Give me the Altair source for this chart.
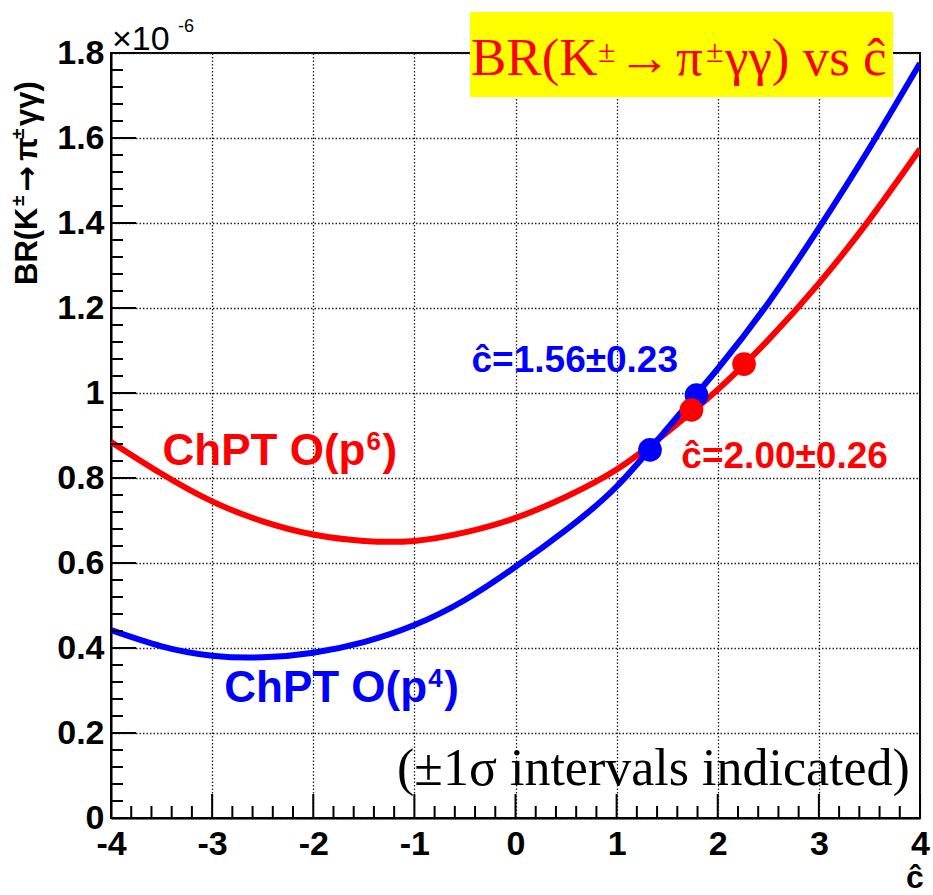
import altair as alt
import pandas as pd

# ---- data ----
c_hat = [-4.0, -3.5, -3.0, -2.5, -2.0, -1.5, -1.0, -0.5, 0.0, 0.5, 1.0, 1.5, 2.0, 2.5, 3.0, 3.5, 4.0]
br_p6 = [0.885, 0.81, 0.745, 0.698, 0.667, 0.652, 0.652, 0.672, 0.706, 0.756, 0.82, 0.908, 1.008, 1.125, 1.258, 1.408, 1.574]
br_p4 = [0.442, 0.404, 0.382, 0.378, 0.389, 0.414, 0.454, 0.513, 0.591, 0.678, 0.78, 0.916, 1.057, 1.212, 1.388, 1.576, 1.776]

p4_marker_c = [1.33, 1.79]
p4_marker_br = [0.866, 0.995]
p6_marker_c = [1.74, 2.26]
p6_marker_br = [0.960, 1.068]

x_major = [-4, -3, -2, -1, 0, 1, 2, 3, 4]
y_major = [0, 0.2, 0.4, 0.6, 0.8, 1.0, 1.2, 1.4, 1.6, 1.8]
x_minor = [round(-4 + i * 0.2, 1) for i in range(41) if i % 5 != 0]
y_minor = [round(i * 0.04, 2) for i in range(46) if i % 5 != 0]

chpt_x = [-3.49, -2.88]
chpt_y = [0.831, 0.273]
chpt_power = ["6", "4"]
chpt_color = ["#ff0000", "#0000ff"]

fit_text = ["\u0109=1.56\u00b10.23", "\u0109=2.00\u00b10.26"]
fit_x = [-0.435, 1.64]
fit_y = [1.049, 0.824]
fit_color = ["#0000ff", "#ff0000"]

W, H = 809, 765

xs = alt.Scale(domain=[-4, 4], nice=False, zero=False)
ys = alt.Scale(domain=[0, 1.8], nice=False, zero=False)

common_axis = dict(
    title=None, grid=True, ticks=False, domain=True, domainColor="black", domainWidth=2,
    gridColor="#222222", gridWidth=1.3, gridDash=[1.5, 2], gridOpacity=1,
    labelFont="Liberation Sans", labelFontWeight="bold", labelFontSize=34,
    labelColor="black", labelFlush=False, labelOverlap=False, labelExpr="'' + datum.value",
)
xaxis = alt.Axis(values=x_major, labelPadding=9, **common_axis)
yaxis = alt.Axis(values=y_major, labelPadding=7, **common_axis)

X = lambda f: alt.X(f, type="quantitative", scale=xs, axis=xaxis)
Y = lambda f: alt.Y(f, type="quantitative", scale=ys, axis=yaxis)

df6 = pd.DataFrame({"c": c_hat, "br": br_p6})
df4 = pd.DataFrame({"c": c_hat, "br": br_p4})

line6 = alt.Chart(df6).mark_line(color="#ff0000", strokeWidth=6, interpolate="natural", clip=True).encode(x=X("c"), y=Y("br"))
line4 = alt.Chart(df4).mark_line(color="#0000ff", strokeWidth=6, interpolate="natural", clip=True).encode(x=X("c"), y=Y("br"))

pts4 = alt.Chart(pd.DataFrame({"c": p4_marker_c, "br": p4_marker_br})).mark_circle(
    color="#0000ff", size=560, opacity=1).encode(x=X("c"), y=Y("br"))
pts6 = alt.Chart(pd.DataFrame({"c": p6_marker_c, "br": p6_marker_br})).mark_circle(
    color="#ff0000", size=560, opacity=1).encode(x=X("c"), y=Y("br"))

# inward ticks (ROOT style)
ymaj = alt.Chart(pd.DataFrame({"v": y_major})).mark_rule(color="black", strokeWidth=2).encode(
    y=Y("v"), x=alt.value(0), x2=alt.value(25))
ymin = alt.Chart(pd.DataFrame({"v": y_minor})).mark_rule(color="black", strokeWidth=2).encode(
    y=Y("v"), x=alt.value(0), x2=alt.value(12))
xmaj = alt.Chart(pd.DataFrame({"v": x_major})).mark_rule(color="black", strokeWidth=2).encode(
    x=X("v"), y=alt.value(H), y2=alt.value(H - 24))
xmin = alt.Chart(pd.DataFrame({"v": x_minor})).mark_rule(color="black", strokeWidth=2).encode(
    x=X("v"), y=alt.value(H), y2=alt.value(H - 12))

# ChPT labels (main text, superscript power, closing paren)
chpt_df = pd.DataFrame({"x": chpt_x, "y": chpt_y, "p": chpt_power, "col": chpt_color,
                        "main": ["ChPT O(p"] * 2, "close": [")"] * 2})
chpt_base = alt.Chart(chpt_df)
chpt_enc = dict(x=X("x"), y=Y("y"), color=alt.Color("col:N", scale=None))
chpt_main = chpt_base.mark_text(align="left", baseline="alphabetic", font="Liberation Sans",
                                fontWeight="bold", fontSize=44).encode(text="main:N", **chpt_enc)
chpt_pow = chpt_base.mark_text(align="left", baseline="alphabetic", font="Liberation Sans",
                               fontWeight="bold", fontSize=26, dx=204, dy=-15).encode(text="p:N", **chpt_enc)
chpt_close = chpt_base.mark_text(align="left", baseline="alphabetic", font="Liberation Sans",
                                 fontWeight="bold", fontSize=44, dx=220).encode(text="close:N", **chpt_enc)

fits = alt.Chart(pd.DataFrame({"t": fit_text, "x": fit_x, "y": fit_y, "col": fit_color})).mark_text(
    align="left", baseline="alphabetic", font="Liberation Sans", fontWeight="bold", fontSize=37).encode(
    x=X("x"), y=Y("y"), text="t:N", color=alt.Color("col:N", scale=None))

note = alt.Chart(pd.DataFrame({"t": ["(\u00b11\u03c3 intervals indicated)"], "x": [3.90], "y": [0.078]})).mark_text(
    align="right", baseline="alphabetic", font="Liberation Serif", fontSize=52, color="black").encode(
    x=X("x"), y=Y("y"), text="t:N")


def ptext(t, x, y, size, font="Liberation Sans", weight="normal", color="black",
          dx=0, dy=0, angle=0, align="left"):
    kw = dict(align=align, baseline="alphabetic", font=font, fontWeight=weight,
              fontSize=size, color=color, dx=dx, dy=dy)
    if angle:
        kw["angle"] = angle
    return alt.Chart(pd.DataFrame({"t": [t]})).mark_text(**kw).encode(
        x=alt.value(x), y=alt.value(y), text="t:N")


# title box and composed title
box = alt.Chart(pd.DataFrame({"a": [0]})).mark_rect(color="#ffff00").encode(
    x=alt.value(359), x2=alt.value(782), y=alt.value(-41), y2=alt.value(44))
TS = "Liberation Serif"
title_parts = [
    ptext("BR(K", 360, 22, 53, TS, color="#ff0000"),
    ptext("\u00b1", 360, 22, 32, TS, color="#ff0000", dx=127, dy=-13),
    ptext("\u2192", 360, 22, 53, TS, color="#ff0000", dx=147),
    ptext("\u03c0", 360, 22, 53, TS, color="#ff0000", dx=205),
    ptext("\u00b1", 360, 22, 32, TS, color="#ff0000", dx=235, dy=-13),
    ptext("\u03b3\u03b3) vs \u0109", 360, 22, 53, TS, color="#ff0000", dx=254),
]

# axis exponent
exp1 = ptext("\u00d710", 1, -3, 34)
exp2 = ptext("-6", 67, -21, 18)

# rotated y title composed of pieces (reading upward, dx along the text)
YX, YY = -74, 232
ytitle_parts = [
    ptext("BR(K", YX, YY, 31, weight="bold", angle=270),
    ptext("\u00b1", YX, YY, 19, weight="bold", angle=270, dx=79, dy=-13),
    ptext("\u2192", YX, YY, 31, font="DejaVu Sans", weight="bold", angle=270, dx=93),
    ptext("\u03c0", YX, YY, 31, weight="bold", angle=270, dx=124),
    ptext("\u00b1", YX, YY, 19, weight="bold", angle=270, dx=146, dy=-13),
    ptext("\u03b3\u03b3)", YX, YY, 31, weight="bold", angle=270, dx=159),
]

xtitle = ptext("\u0109", 804, 835, 32, weight="bold", align="center")

chart = alt.layer(
    line6, line4, pts4, pts6, ymaj, ymin, xmaj, xmin,
    chpt_main, chpt_pow, chpt_close, fits, note, box, *title_parts,
    exp1, exp2, *ytitle_parts, xtitle
).properties(
    width=W, height=H,
    autosize=alt.AutoSizeParams(type="none"),
    padding={"left": 111, "top": 53, "right": 13, "bottom": 77},
    background="white",
).configure_view(stroke="black", strokeWidth=2)

chart.save("out.html", embed_options={"renderer": "svg", "actions": False})
